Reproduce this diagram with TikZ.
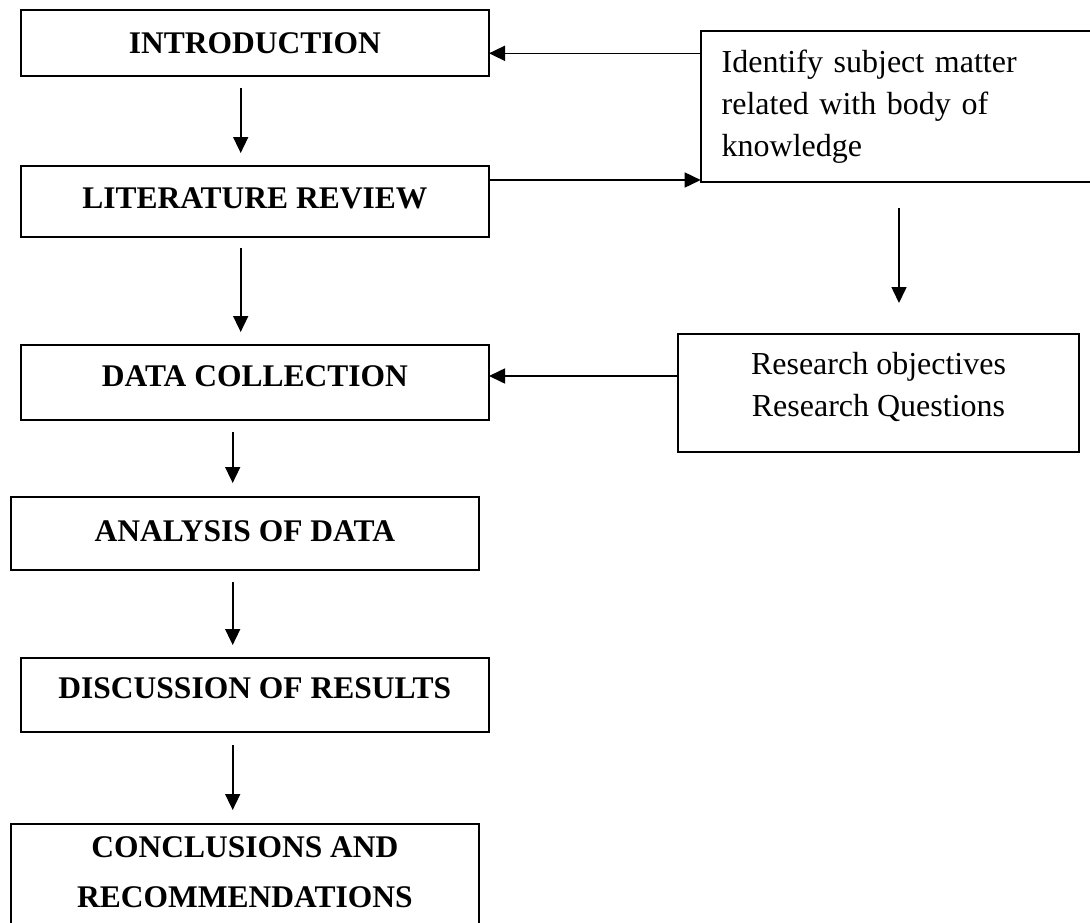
\documentclass[tikz,border=0pt]{standalone}
\usepackage{fontspec}
\setmainfont{Liberation Serif}
\usetikzlibrary{arrows.meta}
\begin{document}
\begin{tikzpicture}[x=1pt,y=-1pt,
  stage/.style={draw=black, line width=2pt, outer sep=0pt, inner sep=0pt,
    minimum width=468.3pt, align=center,
    font=\bfseries\fontsize{31.5}{50}\selectfont},
  note/.style={draw=black, line width=2pt, outer sep=0pt,
    font=\fontsize{32}{41.7}\selectfont},
  link/.style={line width=1.6pt, -{Triangle[length=16pt,width=15pt]}}
]
\useasboundingbox (0,0) rectangle (1090,922);

% main sequence of stages
\node[stage, minimum height=66pt]                   (intro) at (254.85,43)     {INTRODUCTION};
\node[stage, minimum height=70.5pt, text depth=6pt]  (lit)   at (254.85,201.25) {LITERATURE REVIEW};
\node[stage, minimum height=75pt, text depth=12pt]   (data)  at (254.85,382.5)  {DATA COLLECTION};
\node[stage, minimum height=73pt, text depth=5pt]    (anal)  at (244.85,533.5)  {ANALYSIS OF DATA};
\node[stage, minimum height=74pt, text depth=13pt]   (disc)  at (254.85,695)    {DISCUSSION OF RESULTS};
\node[stage, anchor=north, inner ysep=13pt, text depth=60pt]
                                                     (concl) at (244.85,824)    {CONCLUSIONS AND\\RECOMMENDATIONS};

% side boxes
\node[note, anchor=north west, inner xsep=21pt, inner ysep=0pt, text width=370pt,
      minimum height=151.6pt, align=left]
      (ident) at (700.7,30.7) {Identify subject matter\\related with body of\\knowledge};
\node[note, minimum width=401pt, minimum height=118pt, align=center, text depth=17pt]
      (res) at (878.5,393) {Research objectives\\Research Questions};

% flow down the left column
\draw[link] ([xshift=-14.15pt,yshift=-12pt]intro.south) -- ([xshift=-14.15pt,yshift=13pt]lit.north);
\draw[link] ([xshift=-14.15pt,yshift=-11.5pt]lit.south) -- ([xshift=-14.15pt,yshift=13pt]data.north);
\draw[link] ([xshift=-22.15pt,yshift=-12pt]data.south) -- ([xshift=-12.15pt,yshift=14pt]anal.north);
\draw[link] ([xshift=-12.15pt,yshift=-12pt]anal.south) -- ([xshift=-22.15pt,yshift=13pt]disc.north);
\draw[link] ([xshift=-22.15pt,yshift=-13pt]disc.south) -- ([xshift=-12.15pt,yshift=14pt]concl.north);

% links with the side boxes
\draw[link] ([yshift=53.2pt]ident.west) -- ([yshift=-10.3pt]intro.east);
\draw[link] ([yshift=21.25pt]lit.east) -- ([yshift=-73.5pt]ident.west);
\draw[link] ([xshift=-7.7pt,yshift=-25.7pt]ident.south) -- ([xshift=20.5pt,yshift=31pt]res.north);
\draw[link] ([yshift=17pt]res.west) -- ([yshift=6.5pt]data.east);
\end{tikzpicture}
\end{document}
